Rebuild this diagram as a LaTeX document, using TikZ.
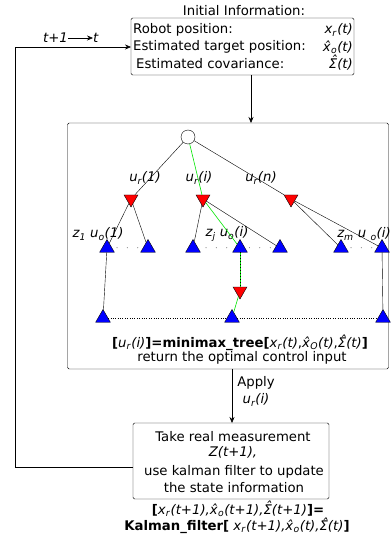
\documentclass[tikz,border=0pt]{standalone}
\usepackage{fontspec}
\setmainfont{DejaVu Sans}
\usetikzlibrary{shapes.geometric,arrows.meta}
\newcommand{\iv}[1]{\textit{#1}}
\newcommand{\sbs}[1]{\textsubscript{\textit{#1}}}
\newcommand{\hx}{\textit{\^{x}}}
\newcommand{\hS}{\textit{\ooalign{Σ\cr\hidewidth\kern0.12em\raisebox{0.2em}{ˆ}\hidewidth\cr}}}
\begin{document}
\begin{tikzpicture}[x=1bp, y=-1bp, font=\fontsize{13.3}{15}\selectfont, >={Stealth[length=6pt,width=5pt]},
          box/.style={draw, rounded corners=1.5pt, inner sep=0pt},
          ctl/.style={regular polygon, regular polygon sides=3, draw, fill=red, shape border rotate=180, minimum size=16bp, inner sep=0pt},
          obs/.style={regular polygon, regular polygon sides=3, draw, fill=blue, minimum size=17bp, inner sep=0pt},
          txt/.style={inner sep=0pt},
          lab/.style={inner sep=0pt, font=\fontsize{13.3}{15}\selectfont\itshape},
          arr/.style={->, semithick},
          best/.style={green!90!black, semithick}]
        \useasboundingbox (0,0) rectangle (390,542);
        % initial information
        \node[txt] (it) at (244,11) {Initial Information:};
        \node[box, minimum width=223bp, minimum height=57bp] (ib) at (242.5,46.5) {};
        \node[txt, anchor=west] (p1) at (133,30) {Robot position:};
        \node[txt, anchor=west] (p2) at (133,47) {Estimated target position:};
        \node[txt, anchor=west] (p3) at (136,64) {Estimated covariance:};
        \node[txt, anchor=east] (v1) at (353,30) {\iv{x}\sbs{r}\iv{(t)}};
        \node[txt, anchor=east] (v2) at (353,47) {\hx\sbs{o}\iv{(t)}};
        \node[txt, anchor=east] (v3) at (353,64) {\hS\iv{(t)}};
        % tree box
        \node[box, minimum width=321bp, minimum height=246bp] (tb) at (228,246) {};
        \node[circle, draw, fill=white, minimum size=14bp, inner sep=0pt] (rt) at (188,137) {};
        \node[ctl] (r1) at (131,199) {};
        \node[ctl] (r2) at (203,199) {};
        \node[ctl] (r3) at (291,199) {};
        \node[lab] at (145,178) {u\sbs{r}(1)};
        \node[lab] at (199,178) {u\sbs{r}(i)};
        \node[lab] at (261,178) {u\sbs{r}(n)};
        \node[obs] (b1) at (107,248) {};
        \node[obs] (b2) at (148,248) {};
        \node[obs] (b3) at (193,248) {};
        \node[obs] (b4) at (240,248) {};
        \node[obs] (b5) at (280,248) {};
        \node[obs] (b6) at (341,248) {};
        \node[obs] (b7) at (382,248) {};
        \node[lab] at (98,234) {z\textsubscript{1} u\sbs{o}(1)};
        \node[lab] at (227,234) {z\sbs{j} u\sbs{o}(i)};
        \node[lab] at (364,234) {z\sbs{m} u \sbs{o}(i)};
        \node[ctl] (r4) at (240,291) {};
        \node[obs] (c1) at (103,318) {};
        \node[obs] (c2) at (232,318) {};
        \node[obs] (c3) at (383,318) {};
        \foreach \a/\b in {b1/b2,b3/b4,b4/b5,b6/b7}
          \path (\a) -- node[inner sep=0pt, font=\small]{$\cdot\ \ \cdot\ \ \cdot$} (\b);
        \draw (rt) -- (r1);
        \draw (rt) -- (r3);
        \draw (r1) -- (b1);
        \draw (r1) -- (b2);
        \draw (r2) -- (b3);
        \draw (r2) -- (b5);
        \draw (r3) -- (b6);
        \draw (r3) -- (b7);
        \draw (b1) -- (c1);
        \draw (b7) -- (c3);
        \draw[best] (rt) -- (r2);
        \draw[best] (r2) -- (b4);
        \draw[best] (b4) -- (r4);
        \draw[very thin, dash pattern=on 1pt off 2pt] (b4) -- (r4);
        \draw[best] (r4) -- (c2);
        \draw[dotted] (c1.east) -- (c2.west);
        \draw[dotted] (c2.east) -- (c3.west);
        \node[txt] (mm) at (240,344) {\textbf{[}\iv{u}\sbs{r}\iv{(i)}\textbf{]=minimax\_tree[}\iv{x}\sbs{r}\iv{(t)},\hx\sbs{O}\iv{(t)},\hS\iv{(t)}\textbf{]}};
        \node[txt] (ro) at (242,358) {return the optimal control input};
        % measurement
        \node[box, minimum width=196bp, minimum height=76bp] (kb) at (231,461) {};
        \node[txt] (k1) at (233,437) {Take real measurement};
        \node[txt] (k2) at (233,452) {\iv{Z(t+1),}};
        \node[txt] (k3) at (234,472) {use kalman filter to update};
        \node[txt] (k4) at (234,488) {the state information};
        \node[txt] (kf1) at (238,510) {\textbf{[}\iv{x}\sbs{r}\iv{(t+1),}\hx\sbs{o}\iv{(t+1),}\hS\iv{(t+1)}\textbf{]=}};
        \node[txt] (kf2) at (237,527) {\textbf{Kalman\_filter[} \iv{x}\sbs{r}\iv{(t+1),}\hx\sbs{o}\iv{(t),}\hS\iv{(t)}\textbf{]}};
        \node[txt] (ap) at (256,383) {Apply};
        \node[lab] (au) at (256,400) {u\sbs{r}(i)};
        % connectors
        \coordinate (ta) at (251,75);
        \coordinate (tc) at (251,123);
        \draw[arr] (ta) -- (tc);
        \coordinate (ma) at (232,369);
        \coordinate (mb) at (232,423);
        \draw[arr] (ma) -- (mb);
        \coordinate (fa) at (133,467);
        \coordinate (fb) at (15,467);
        \coordinate (fc) at (15,47);
        \coordinate (fd) at (131,47);
        \draw[arr] (fa) -- (fb) -- (fc) -- (fd);
        \node[lab, anchor=east] (t1) at (68,38) {t+1};
        \node[lab, anchor=west] (t2) at (93,38) {t};
        \draw[arr] (t1) -- (t2);
      \end{tikzpicture}
\end{document}
